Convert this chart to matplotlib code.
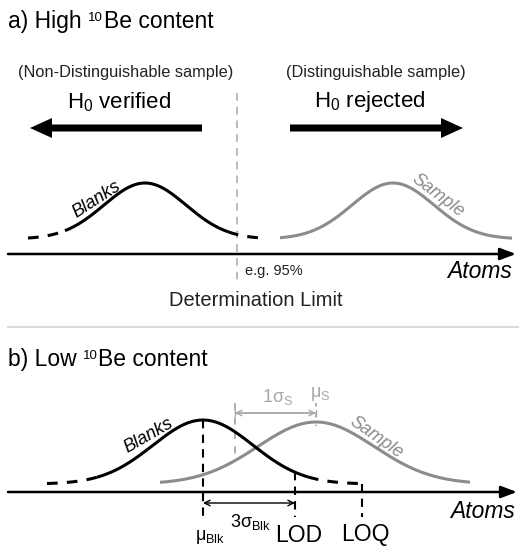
import numpy as np
import matplotlib
matplotlib.use('Agg')
import matplotlib.pyplot as plt

plt.rcParams['font.family'] = ['Liberation Sans', 'DejaVu Sans']
plt.rcParams['mathtext.fontset'] = 'custom'
plt.rcParams['mathtext.rm'] = 'Liberation Sans'
plt.rcParams['mathtext.it'] = 'Liberation Sans:italic'
plt.rcParams['mathtext.bf'] = 'Liberation Sans:bold'

# Schematic curves (picture units): [blanks, sample]
a_mu = [145, 393]
a_sigma = [41, 41]
a_height = [56, 56]
a_base = 239
a_solid = [(65, 228), (280, 512)]
a_dashed = [(28, 65), (228, 265)]   # blanks tails
a_limit = 237                       # determination limit

b_mu = [203, 316]
b_sigma = [50, 58]
b_height = [64, 62]
b_base = 484
b_solid = [(97, 308), (160, 470)]
b_dashed = [(47, 97), (308, 359)]
b_lod = 295
b_loq = 362
b_sigma_s_left = 235

GRAY = '#8c8c8c'
LIGHT = '#a8a8a8'


def bell(x, mu, s, h, base):
    return base - h * np.exp(-0.5 * ((x - mu) / s) ** 2)


def draw_curve(ax, mu, s, h, base, x0, x1, **kw):
    xs = np.linspace(x0, x1, 200)
    ax.plot(xs, bell(xs, mu, s, h, base), solid_capstyle='butt', **kw)


def axis_arrow(ax, y, x0, x1):
    ax.annotate('', xy=(x1, y), xytext=(x0, y),
                arrowprops=dict(arrowstyle='-|>,head_length=0.8,head_width=0.3',
                                lw=1.8, color='black', shrinkA=0, shrinkB=0,
                                mutation_scale=12))


def title(ax, x, y, head, tail):
    # "head ^10 tail" with a small raised 10
    r = fig.canvas.get_renderer()
    t = ax.text(x, y, head, fontsize=16.5, ha='left', va='baseline')
    x = t.get_window_extent(r).x1 + 6
    t = ax.text(x, y - 7, '10', fontsize=9.5, ha='left', va='baseline')
    x = t.get_window_extent(r).x1 + 1
    ax.text(x, y, tail, fontsize=16.5, ha='left', va='baseline')


fig = plt.figure(figsize=(5.19, 5.49), dpi=100)
ax = fig.add_axes([0, 0, 1, 1])
ax.set_xlim(0, 519)
ax.set_ylim(549, 0)
ax.axis('off')

# ---------- panel a ----------
title(ax, 8, 28, 'a) High', 'Be content')
ax.text(126, 72, '(Non-Distinguishable sample)', fontsize=11.8, ha='center', va='center', color='#222222')
ax.text(376, 72, '(Distinguishable sample)', fontsize=11.8, ha='center', va='center', color='#222222')
ax.text(119, 102, r'H$_0$ verified', fontsize=16, ha='center', va='center')
ax.text(370, 102, r'H$_0$ rejected', fontsize=16, ha='center', va='center')
ax.arrow(202, 128, -172, 0, width=7, head_width=20, head_length=22,
         length_includes_head=True, color='black', lw=0)
ax.arrow(290, 128, 173, 0, width=7, head_width=20, head_length=22,
         length_includes_head=True, color='black', lw=0)

ax.plot([a_limit, a_limit], [93, 285], color=LIGHT, lw=1.1, dashes=(5, 4))

draw_curve(ax, a_mu[0], a_sigma[0], a_height[0], a_base, *a_solid[0], color='black', lw=2.2)
for x0, x1 in a_dashed:
    draw_curve(ax, a_mu[0], a_sigma[0], a_height[0], a_base, x0, x1, color='black', lw=2.2, dashes=(3.5, 3))
draw_curve(ax, a_mu[1], a_sigma[1], a_height[1], a_base, *a_solid[1], color=GRAY, lw=2.2)

axis_arrow(ax, 254, 8, 516)
ax.text(97, 200, 'Blanks', fontsize=13, style='italic', rotation=33, ha='center', va='center')
ax.text(438, 196, 'Sample', fontsize=13, style='italic', rotation=-37, ha='center', va='center', color=GRAY)
ax.text(245, 271, 'e.g. 95%', fontsize=10.5, ha='left', va='center', color='#222222')
ax.text(512, 272, 'Atoms', fontsize=16.5, style='italic', ha='right', va='center')
ax.text(256, 301, 'Determination Limit', fontsize=14.5, ha='center', va='center', color='#222222')

ax.plot([8, 519], [327, 327], color='#dcdcdc', lw=1.6)

# ---------- panel b ----------
title(ax, 8, 366, 'b) Low', 'Be content')

blank_top = bell(b_mu[0], b_mu[0], b_sigma[0], b_height[0], b_base)
sample_top = bell(b_mu[1], b_mu[1], b_sigma[1], b_height[1], b_base)
lod_y = bell(b_lod, b_mu[0], b_sigma[0], b_height[0], b_base)
s_left_y = bell(b_sigma_s_left, b_mu[1], b_sigma[1], b_height[1], b_base)

ax.plot([b_sigma_s_left, b_sigma_s_left], [403, s_left_y], color=LIGHT, lw=1.3, dashes=(4, 4))
ax.plot([b_mu[1], b_mu[1]], [403, sample_top + 4], color=LIGHT, lw=1.3, dashes=(2, 4))
ax.annotate('', xy=(b_mu[1], 413), xytext=(b_sigma_s_left, 413),
            arrowprops=dict(arrowstyle='|-|,widthA=0.25,widthB=0.25', lw=1.0, color=LIGHT,
                            shrinkA=0, shrinkB=0, mutation_scale=10))
ax.annotate('', xy=(b_mu[1], 413), xytext=(b_sigma_s_left, 413),
            arrowprops=dict(arrowstyle='<->,head_length=0.4,head_width=0.2', lw=1.0, color=LIGHT,
                            shrinkA=0, shrinkB=0, mutation_scale=10))
ax.text(278, 397, r'1σ$_{\rm S}$', fontsize=13, ha='center', va='center', color=LIGHT)
ax.text(320, 394, r'μ$_{\rm S}$', fontsize=13, ha='center', va='center', color=LIGHT)

draw_curve(ax, b_mu[1], b_sigma[1], b_height[1], b_base, *b_solid[1], color=GRAY, lw=2.2)
draw_curve(ax, b_mu[0], b_sigma[0], b_height[0], b_base, *b_solid[0], color='black', lw=2.2)
for x0, x1 in b_dashed:
    draw_curve(ax, b_mu[0], b_sigma[0], b_height[0], b_base, x0, x1, color='black', lw=2.2, dashes=(3.5, 3))

ax.plot([b_mu[0], b_mu[0]], [blank_top, 517], color='black', lw=1.5, dashes=(4, 3))
ax.plot([b_lod, b_lod], [lod_y, 517], color='black', lw=1.5, dashes=(4, 3))
ax.plot([b_loq, b_loq], [b_base, 517], color='black', lw=1.5, dashes=(4, 3))

axis_arrow(ax, 492, 8, 517)

ax.annotate('', xy=(b_lod, 503), xytext=(b_mu[0], 503),
            arrowprops=dict(arrowstyle='<->,head_length=0.4,head_width=0.2', lw=1.0, color='black',
                            shrinkA=0, shrinkB=0, mutation_scale=10))
ax.text(250, 522, r'3σ$_{\rm Blk}$', fontsize=13, ha='center', va='center')
ax.text(210, 537, r'μ$_{\rm Blk}$', fontsize=13, ha='center', va='center')
ax.text(299, 535, 'LOD', fontsize=16.5, ha='center', va='center')
ax.text(365, 535, 'LOQ', fontsize=16.5, ha='center', va='center')
ax.text(515, 512, 'Atoms', fontsize=16.5, style='italic', ha='right', va='center')
ax.text(149, 436, 'Blanks', fontsize=13, style='italic', rotation=30, ha='center', va='center')
ax.text(376, 438, 'Sample', fontsize=13, style='italic', rotation=-35, ha='center', va='center', color=GRAY)

fig.savefig('out.png', dpi=100)
